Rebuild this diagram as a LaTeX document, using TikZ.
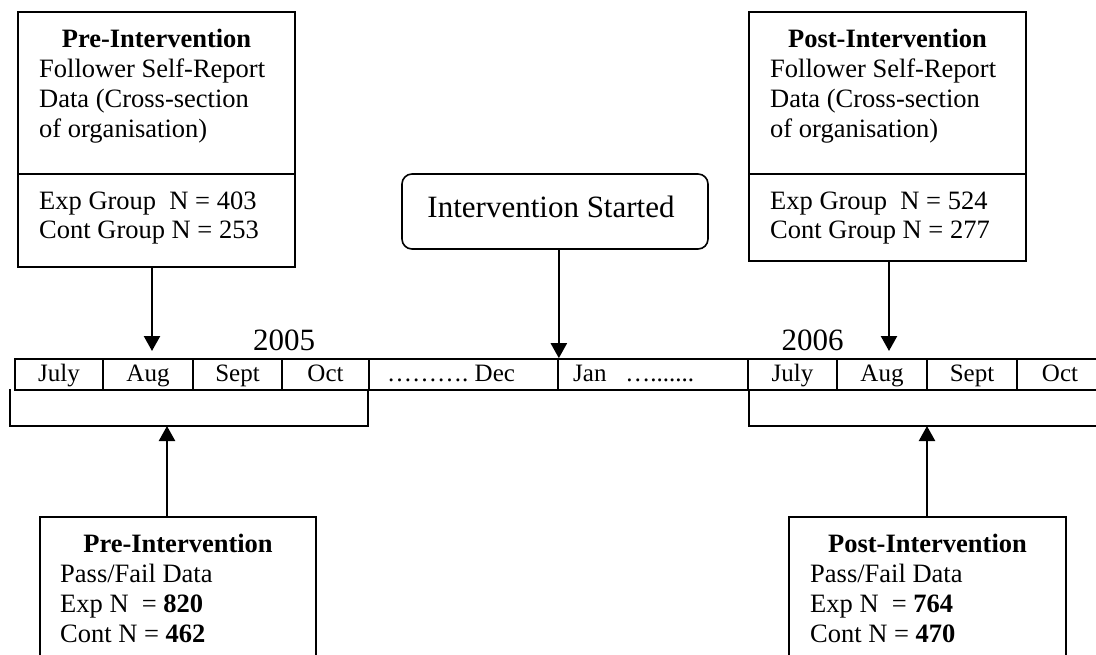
\documentclass[tikz,border=0pt]{standalone}
\usepackage{fontspec}
\setmainfont{Liberation Serif}
\usetikzlibrary{arrows.meta}
\begin{document}
\begin{tikzpicture}[x=1pt,y=-1pt,
  box/.style={draw,line width=1.6pt,inner sep=0pt},
  arr/.style={line width=2.3pt,-{Triangle[length=15pt,width=16pt]}},
  cell/.style={draw,line width=1.7pt,inner sep=0pt,minimum height=31pt,text height=18pt,text depth=4pt,font=\fontsize{25}{25}\selectfont},
  txt/.style={anchor=base west,inner sep=0pt,font=\fontsize{26.5}{30}\selectfont},
  ttl/.style={anchor=base,inner sep=0pt,font=\fontsize{26.5}{30}\selectfont\bfseries},
  yr/.style={anchor=base,inner sep=0pt,font=\fontsize{31}{31}\selectfont},
  brk/.style={line width=1.4pt},
]
\clip (0,0) rectangle (1096,654);
\fill[white] (0,0) rectangle (1096,654);

% ---- top boxes ----
\node[box,minimum width=277pt,minimum height=255pt] (preSR) at (156.5,139.5) {};
\draw[line width=1.6pt] (preSR.west |- 0,174) -- (preSR.east |- 0,174);
\node[ttl] at (preSR.center |- 0,47) {Pre-Intervention};
\node[txt] at (39,77) {Follower Self-Report};
\node[txt] at (39,107) {Data (Cross-section};
\node[txt] at (39,137) {of organisation)};
\node[txt] at (39,209) {Exp Group\ \ N = 403};
\node[txt] at (39,238) {Cont Group N = 253};

\node[box,minimum width=277pt,minimum height=249pt] (postSR) at (887.5,136.5) {};
\draw[line width=1.6pt] (postSR.west |- 0,174) -- (postSR.east |- 0,174);
\node[ttl] at (postSR.center |- 0,47) {Post-Intervention};
\node[txt] at (770,77) {Follower Self-Report};
\node[txt] at (770,107) {Data (Cross-section};
\node[txt] at (770,137) {of organisation)};
\node[txt] at (770,209) {Exp Group\ \ N = 524};
\node[txt] at (770,238) {Cont Group N = 277};

\node[draw,line width=1.6pt,rounded corners=10pt,minimum width=306pt,minimum height=75pt,inner sep=0pt] (start) at (555,211.5) {};
\node[anchor=base,inner sep=0pt,font=\fontsize{31}{32}\selectfont] at (551,217) {Intervention Started};

% ---- timeline ----
\node[cell,minimum width=88pt] (c1) at (59,374.5) {July};
\node[cell,minimum width=90pt] (c2) at (148,374.5) {Aug};
\node[cell,minimum width=89pt] (c3) at (237.5,374.5) {Sept};
\node[cell,minimum width=87pt] (c4) at (325.5,374.5) {Oct};
\node[cell,minimum width=189pt] (c5) at (463.5,374.5) {};
\node[cell,minimum width=190pt] (c6) at (653,374.5) {};
\node[cell,minimum width=89pt] (c7) at (792.5,374.5) {July};
\node[cell,minimum width=90pt] (c8) at (882,374.5) {Aug};
\node[cell,minimum width=90pt] (c9) at (972,374.5) {Sept};
\node[cell,minimum width=90pt] (c10) at (1062,374.5) {};
\node[anchor=base,inner sep=0pt,font=\fontsize{25}{25}\selectfont] at (1060,381.5) {Oct};
\node[anchor=base west,inner sep=0pt,font=\fontsize{25}{25}\selectfont] at (387,381.5) {……….\ Dec};
\node[anchor=base west,inner sep=0pt,font=\fontsize{25}{25}\selectfont] at (573,381.5) {Jan\ \ \ ….......};
\node[yr] at (284,350) {2005};
\node[yr] at (812.5,350) {2006};

% ---- brackets ----
\coordinate (bL) at (167,426);
\coordinate (bR) at (927,426);
\draw[brk] (10,389) -- (10,426) -- (368,426) -- (368,389);
\draw[brk] (749,389) -- (749,426) -- (1100,426);

% ---- bottom boxes ----
\node[box,minimum width=276pt,minimum height=183pt] (prePF) at (178,608.5) {};
\node[ttl] at (prePF.center |- 0,552) {Pre-Intervention};
\node[txt] at (60,582) {Pass/Fail Data};
\node[txt] at (60,612) {Exp N\ \ = \textbf{820}};
\node[txt] at (60,642) {Cont N = \textbf{462}};

\node[box,minimum width=277pt,minimum height=183pt] (postPF) at (927.5,608.5) {};
\node[ttl] at (postPF.center |- 0,552) {Post-Intervention};
\node[txt] at (810,582) {Pass/Fail Data};
\node[txt] at (810,612) {Exp N\ \ = \textbf{764}};
\node[txt] at (810,642) {Cont N = \textbf{470}};

% ---- arrows ----
\coordinate (tA) at (152,351);
\coordinate (tB) at (889,351);
\draw[arr] (preSR.south -| tA) -- (tA);
\draw[arr] (postSR.south -| tB) -- (tB);
\draw[arr] (start.south -| c5.east) -- (c5.north east);
\draw[arr] (prePF.north -| bL) -- (bL);
\draw[arr] (postPF.north -| bR) -- (bR);
\end{tikzpicture}
\end{document}
